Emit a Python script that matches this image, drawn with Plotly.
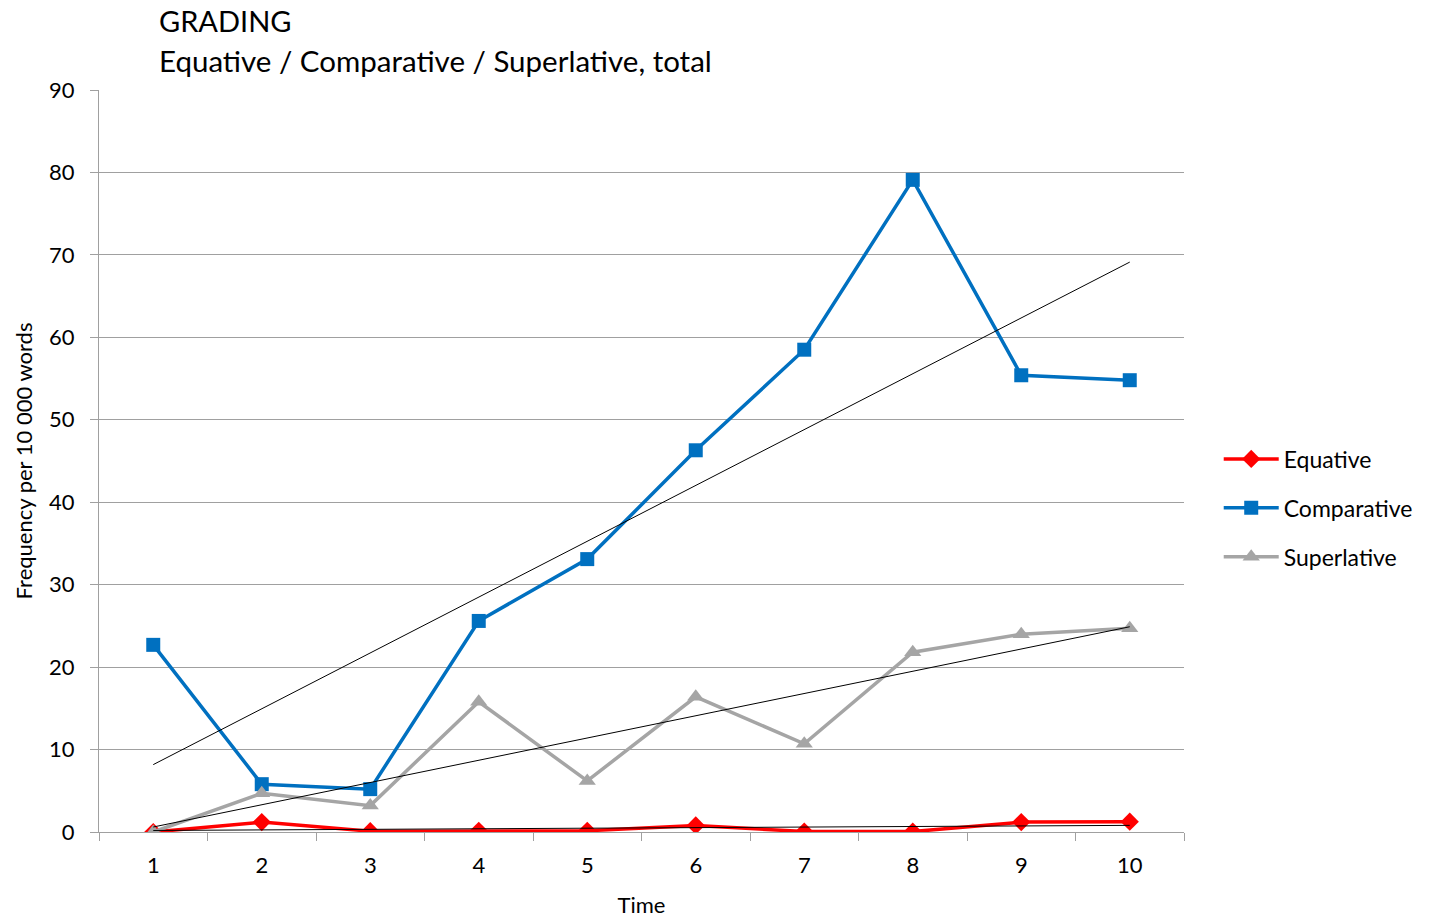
import numpy as np
import plotly.graph_objects as go

# Time points and series (frequency per 10 000 words)
time_points = [1, 2, 3, 4, 5, 6, 7, 8, 9, 10]
equative = [0.0, 1.2, 0.1, 0.15, 0.15, 0.8, 0.05, 0.05, 1.2, 1.25]
comparative = [22.7, 5.8, 5.2, 25.6, 33.1, 46.3, 58.5, 79.1, 55.4, 54.8]
superlative = [0.0, 4.7, 3.2, 15.8, 6.2, 16.4, 10.7, 21.8, 24.0, 24.7]

y_ticks = [0, 10, 20, 30, 40, 50, 60, 70, 80, 90]

FONT = "Lato"
cats = [str(t) for t in time_points]

fig = go.Figure()

series = [
    ("Equative", equative, "#ff0000", "diamond", 14),
    ("Comparative", comparative, "#0070c0", "square", 14),
    ("Superlative", superlative, "#a5a5a5", "triangle-up", 15),
]

for i, (name, vals, color, symbol, msize) in enumerate(series):
    fig.add_trace(go.Scatter(
        x=cats, y=vals, name=name, mode="lines+markers",
        line=dict(color=color, width=3.5),
        marker=dict(symbol=symbol, size=msize, color=color),
        legendgroup=f"g{i}",
    ))

# Linear trendlines for each series
for name, vals, *_ in series:
    slope, intercept = np.polyfit(time_points, vals, 1)
    fig.add_trace(go.Scatter(
        x=[cats[0], cats[-1]],
        y=[slope * time_points[0] + intercept, slope * time_points[-1] + intercept],
        mode="lines", line=dict(color="black", width=1),
        showlegend=False, hoverinfo="skip",
    ))

fig.update_layout(
    width=1431, height=918,
    margin=dict(l=99, r=247, t=90, b=86, autoexpand=False),
    paper_bgcolor="white", plot_bgcolor="white",
    font=dict(family=FONT, size=22, color="black"),
    showlegend=True,
    legend=dict(
        x=1.032, y=0.4367, xanchor="left", yanchor="middle",
        font=dict(family=FONT, size=23, color="black"),
        traceorder="grouped", tracegroupgap=16, itemwidth=55,
        bgcolor="rgba(0,0,0,0)",
    ),
    xaxis=dict(
        type="category", categoryorder="array", categoryarray=cats,
        range=[-0.5, 9.5], automargin=False,
        tickson="boundaries", ticks="outside", ticklen=8, tickcolor="#a0a0a0",
        ticklabelstandoff=14,
        showline=True, linecolor="#a0a0a0", linewidth=1,
        showgrid=False, zeroline=False,
        tickfont=dict(family=FONT, size=22, color="black"),
        title=dict(text="Time", font=dict(family=FONT, size=22, color="black"), standoff=24),
    ),
    yaxis=dict(
        range=[0, 90], tickvals=y_ticks, automargin=False,
        ticks="outside", ticklen=8, tickcolor="#a0a0a0",
        ticklabelstandoff=11,
        showline=True, linecolor="#a0a0a0", linewidth=1,
        showgrid=True, gridcolor="#a0a0a0", gridwidth=1,
        zeroline=False,
        tickfont=dict(family=FONT, size=22, color="black"),
        title=dict(text="Frequency per 10 000 words",
                   font=dict(family=FONT, size=22, color="black"), standoff=10),
    ),
    annotations=[
        dict(text="GRADING", xref="paper", yref="paper", x=0.0535, y=1.093,
             xanchor="left", yanchor="middle", showarrow=False,
             font=dict(family=FONT, size=29, color="black")),
        dict(text="Equative / Comparative / Superlative, total", xref="paper", yref="paper",
             x=0.0535, y=1.0404, xanchor="left", yanchor="middle", showarrow=False,
             font=dict(family=FONT, size=29.5, color="black")),
    ],
)

fig.write_html("out.html")
